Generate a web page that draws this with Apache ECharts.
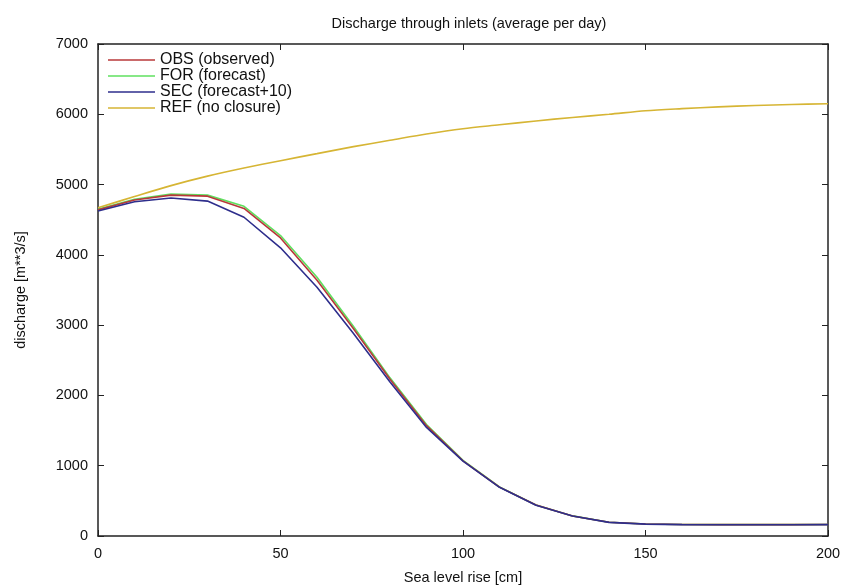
<!DOCTYPE html>
<html>
<head>
<meta charset="utf-8">
<script src="https://cdn.jsdelivr.net/npm/echarts@6/dist/echarts.min.js"></script>
<style>
  html, body { margin: 0; padding: 0; background: #fff; }
  #chart { width: 845px; height: 585px; }
</style>
</head>
<body>
<div id="chart"></div>
<script>
// Sea level rise steps [cm]
const seaLevelRise = [0, 10, 20, 30, 40, 50, 60, 70, 80, 90, 100, 110, 120, 130, 140, 150, 160, 170, 180, 190, 200];

// Average daily discharge through the inlets [m**3/s]
const obs = [4640, 4780, 4850, 4835, 4660, 4240, 3640, 2950, 2230, 1570, 1070, 695, 440, 285, 195, 170, 163, 162, 162, 162, 163];
const fore = [4650, 4790, 4865, 4850, 4690, 4275, 3680, 2980, 2250, 1585, 1075, 697, 441, 286, 196, 170, 163, 162, 162, 162, 163];
const sec = [4625, 4755, 4810, 4765, 4535, 4100, 3540, 2880, 2190, 1545, 1065, 693, 438, 284, 194, 169, 162, 161, 161, 161, 162];
const ref = [4670, 4830, 4985, 5120, 5235, 5340, 5440, 5540, 5630, 5720, 5795, 5850, 5905, 5955, 6000, 6050, 6080, 6105, 6125, 6140, 6150];

const seriesNames = ['OBS (observed)', 'FOR (forecast)', 'SEC (forecast+10)', 'REF (no closure)'];
const seriesColors = ['#b8383a', '#5fe05f', '#2e2e8c', '#d6b534'];
const seriesData = [obs, fore, sec, ref];

const xTicks = [0, 50, 100, 150, 200];
const yTicks = [0, 1000, 2000, 3000, 4000, 5000, 6000, 7000];

const font = 'Liberation Sans, Arial, Helvetica, sans-serif';
const chart = echarts.init(document.getElementById('chart'), null, { renderer: 'canvas' });

const axisLineStyle = { color: '#222', width: 1.5 };

function valueAxis(pos, min, max, interval, showLabels, extra) {
  return Object.assign({
    type: 'value',
    position: pos,
    min: min,
    max: max,
    interval: interval,
    splitLine: { show: false },
    axisLine: { show: true, onZero: false, lineStyle: axisLineStyle },
    axisTick: { show: true, inside: true, length: 6, lineStyle: { color: '#222', width: 1 } },
    axisLabel: { show: showLabels, color: '#111', fontSize: 14, fontFamily: font }
  }, extra || {});
}

chart.setOption({
  animation: false,
  backgroundColor: '#fff',
  title: {
    text: 'Discharge through inlets (average per day)',
    left: 464,
    textAlign: 'center',
    top: 11,
    textStyle: { fontSize: 14.5, fontWeight: 'normal', color: '#111', fontFamily: font }
  },
  legend: {
    orient: 'vertical',
    left: 103,
    top: 47,
    itemGap: 0,
    itemWidth: 47,
    itemHeight: 16.5,
    icon: 'rect',
    data: seriesNames.map((name, i) => ({
      name: name,
      icon: 'path://M0,8 L47,8 L47,9.6 L0,9.6 Z',
      itemStyle: { color: seriesColors[i] }
    })),
    textStyle: { fontSize: 16, color: '#111', fontFamily: font, padding: [0, 0, 0, 0] }
  },
  grid: { left: 98, right: 17, top: 44, bottom: 49, outerBoundsMode: 'none', containLabel: false },
  xAxis: [
    valueAxis('bottom', 0, 200, 50, true, {
      name: 'Sea level rise [cm]',
      nameLocation: 'middle',
      nameGap: 34,
      nameTextStyle: { fontSize: 14.5, color: '#111', fontFamily: font },
      axisLabel: { show: true, color: '#111', fontSize: 14.5, fontFamily: font, margin: 10,
        formatter: v => (xTicks.indexOf(v) >= 0 ? String(v) : '') }
    }),
    valueAxis('top', 0, 200, 50, false)
  ],
  yAxis: [
    valueAxis('left', 0, 7000, 1000, true, {
      name: 'discharge [m**3/s]',
      nameLocation: 'middle',
      nameGap: 70,
      nameRotate: 90,
      nameTextStyle: { fontSize: 14.5, color: '#111', fontFamily: font },
      axisLabel: { show: true, color: '#111', fontSize: 14.5, fontFamily: font, margin: 10,
        formatter: v => (yTicks.indexOf(v) >= 0 ? String(v) : '') }
    }),
    valueAxis('right', 0, 7000, 1000, false)
  ],
  series: seriesNames.map((name, i) => ({
    name: name,
    type: 'line',
    xAxisIndex: 0,
    yAxisIndex: 0,
    showSymbol: false,
    symbol: 'none',
    smooth: i === 3 ? 0.3 : false,
    color: seriesColors[i],
    itemStyle: { color: seriesColors[i] },
    lineStyle: { width: 1.6, color: seriesColors[i] },
    z: [3, 2, 4, 1][i],
    data: seaLevelRise.map((x, k) => [x, seriesData[i][k]])
  }))
});
</script>
</body>
</html>
